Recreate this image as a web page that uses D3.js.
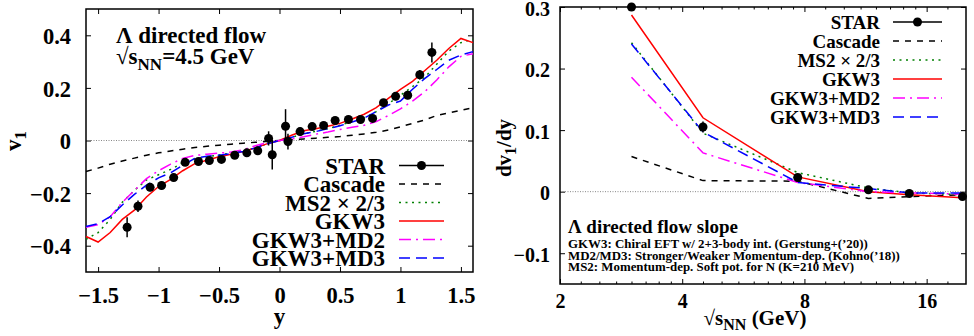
<!DOCTYPE html>
<html>
<head>
<meta charset="utf-8">
<script src="https://cdn.jsdelivr.net/npm/d3@7"></script>
<style>
  body { margin: 0; background: #fff; }
  svg text { font-family: "Liberation Serif", "Times New Roman", serif; font-weight: bold; fill: #000; }
</style>
</head>
<body>
<svg id="chart" width="974" height="336"></svg>
<script>
// ---- left panel: Lambda v1 vs rapidity at 4.5 GeV ----
const starY   = [-1.26, -1.17, -1.07, -0.975, -0.875, -0.78, -0.67, -0.58, -0.48, -0.37, -0.27, -0.18, -0.09, -0.06,
                 0.05, 0.07, 0.17, 0.27, 0.365, 0.46, 0.57, 0.67, 0.77, 0.86, 0.96, 1.06, 1.16, 1.26];
const starV1  = [-0.33, -0.25, -0.178, -0.171, -0.141, -0.083, -0.08, -0.076, -0.072, -0.056, -0.047, -0.039, 0.008, -0.054,
                 0.054, -0.004, 0.034, 0.053, 0.057, 0.076, 0.08, 0.08, 0.084, 0.144, 0.168, 0.172, 0.25, 0.335];
const starErr = [0.038, 0.022, 0.015, 0.015, 0.012, 0.01, 0.01, 0.01, 0.01, 0.01, 0.01, 0.01, 0.027, 0.056,
                 0.065, 0.03, 0.015, 0.012, 0.012, 0.01, 0.01, 0.01, 0.012, 0.012, 0.015, 0.015, 0.018, 0.038];

const modelY = [-1.6, -1.5, -1.4, -1.3, -1.2, -1.1, -1.0, -0.9, -0.8, -0.7, -0.6, -0.5, -0.4, -0.3, -0.2, -0.1, 0,
                0.1, 0.2, 0.3, 0.4, 0.5, 0.6, 0.7, 0.8, 0.9, 1.0, 1.1, 1.2, 1.3, 1.4, 1.5, 1.6];
const cascadeV1 = [-0.118, -0.105, -0.09, -0.078, -0.067, -0.056, -0.047, -0.04, -0.033, -0.027, -0.022, -0.018, -0.014, -0.01, -0.007, -0.003, 0,
                   0.003, 0.006, 0.009, 0.012, 0.015, 0.02, 0.025, 0.031, 0.04, 0.052, 0.065, 0.078, 0.095, 0.105, 0.115, 0.125];
const ms2V1  = [-0.376, -0.35, -0.30, -0.235, -0.19, -0.15, -0.13, -0.11, -0.085, -0.07, -0.062, -0.055, -0.048, -0.04, -0.028, -0.012, 0,
                0.012, 0.025, 0.035, 0.045, 0.058, 0.072, 0.085, 0.11, 0.14, 0.172, 0.205, 0.24, 0.29, 0.34, 0.372, 0.385];
const gkw3V1 = [-0.365, -0.386, -0.35, -0.30, -0.265, -0.215, -0.175, -0.148, -0.115, -0.088, -0.075, -0.062, -0.052, -0.042, -0.028, -0.012, 0,
                0.02, 0.037, 0.045, 0.054, 0.065, 0.082, 0.1, 0.125, 0.16, 0.194, 0.225, 0.265, 0.305, 0.35, 0.388, 0.372];
const md2V1  = [-0.33, -0.32, -0.29, -0.235, -0.19, -0.145, -0.115, -0.09, -0.068, -0.057, -0.052, -0.048, -0.044, -0.035, -0.02, -0.008, 0,
                0.006, 0.014, 0.024, 0.032, 0.042, 0.05, 0.058, 0.072, 0.095, 0.12, 0.15, 0.185, 0.23, 0.28, 0.32, 0.33];
const md3V1  = [-0.327, -0.316, -0.29, -0.245, -0.205, -0.17, -0.142, -0.123, -0.094, -0.068, -0.06, -0.056, -0.05, -0.042, -0.028, -0.012, 0,
                0.012, 0.026, 0.034, 0.045, 0.056, 0.07, 0.085, 0.11, 0.135, 0.15, 0.195, 0.235, 0.27, 0.305, 0.325, 0.338];

// ---- right panel: dv1/dy vs collision energy ----
const starSqrtS = [3.0, 4.5, 7.7, 11.5, 14.5, 19.6];
const starSlope = [0.3, 0.105, 0.023, 0.003, -0.003, -0.008];
const starSlopeErr = [0.005, 0.009, 0.004, 0.003, 0.003, 0.003];
const modelSqrtS = [3.0, 4.5, 7.7, 11.5, 14.5, 19.6];
const cascadeSlope = [0.057, 0.018, 0.017, -0.011, -0.008, -0.005];
const ms2Slope  = [0.242, 0.095, 0.031, 0.006, -0.002, -0.005];
const gkw3Slope = [0.287, 0.12, 0.024, 0.0, -0.005, -0.01];
const md2Slope  = [0.186, 0.063, 0.015, 0.0, -0.002, -0.004];
const md3Slope  = [0.24, 0.097, 0.015, 0.005, -0.002, -0.002];

const legendNames = ["STAR", "Cascade", "MS2 \u00d7 2/3", "GKW3", "GKW3+MD2", "GKW3+MD3"];

const styles = {
  Cascade:    {color: "#000000", dash: "6,6"},
  "MS2 \u00d7 2/3": {color: "#008000", dash: "2,4.5"},
  GKW3:       {color: "#ff0000", dash: null},
  "GKW3+MD2": {color: "#ff00ff", dash: "12,5,2,5"},
  "GKW3+MD3": {color: "#0000ff", dash: "11,6"}
};

const svg = d3.select("#chart");

function drawFrame(g, x, y, w, h, o) {
  // gnuplot-style box with inward ticks on all four sides
  g.append("g").attr("transform", `translate(0,${h})`)
    .call(d3.axisBottom(x).tickValues(o.xTicks).tickSize(-5).tickPadding(o.xPad).tickFormat(o.xFmt))
    .call(a => a.select(".domain").remove())
    .selectAll("text").style("font-size", o.font + "px");
  g.append("g")
    .call(d3.axisTop(x).tickValues(o.xTicks).tickSize(-5).tickFormat(""))
    .call(a => a.select(".domain").remove());
  g.append("g")
    .call(d3.axisLeft(y).tickValues(o.yTicks).tickSize(-5).tickPadding(o.yPad).tickFormat(d3.format("")))
    .call(a => a.select(".domain").remove())
    .selectAll("text").style("font-size", o.font + "px").attr("dy", o.yDy);
  g.append("g").attr("transform", `translate(${w},0)`)
    .call(d3.axisRight(y).tickValues(o.yTicks).tickSize(-5).tickFormat(""))
    .call(a => a.select(".domain").remove());
  if (o.xMinor) {
    g.append("g").attr("transform", `translate(0,${h})`)
      .call(d3.axisBottom(x).tickValues(o.xMinor).tickSize(-2.5).tickFormat(""))
      .call(a => a.select(".domain").remove());
    g.append("g")
      .call(d3.axisTop(x).tickValues(o.xMinor).tickSize(-2.5).tickFormat(""))
      .call(a => a.select(".domain").remove());
  }
  g.selectAll(".tick line").attr("stroke", "#000").attr("stroke-width", 1);
  // zero line
  g.append("line")
    .attr("x1", 0).attr("x2", w).attr("y1", y(0)).attr("y2", y(0))
    .attr("stroke", "#888").attr("stroke-width", 1).attr("stroke-dasharray", "1,1.5");
  g.append("rect").attr("width", w).attr("height", h)
    .attr("fill", "none").attr("stroke", "#000").attr("stroke-width", 1.5);
}

function drawLegend(g, xText, x0, x1, yTop, step, font) {
  legendNames.forEach((name, i) => {
    const cy = yTop + i * step;
    g.append("text").attr("x", xText).attr("y", cy + font * 0.35)
      .attr("text-anchor", "end").style("font-size", font + "px").text(name);
    const s = styles[name];
    g.append("line").attr("x1", x0).attr("x2", x1).attr("y1", cy).attr("y2", cy)
      .attr("stroke", s ? s.color : "#000").attr("stroke-width", 1.5)
      .attr("stroke-dasharray", s ? s.dash : null);
    if (!s) g.append("circle").attr("cx", (x0 + x1) / 2).attr("cy", cy).attr("r", 4.5).attr("fill", "#000");
  });
}

// ================= left panel =================
{
  const m = {left: 86, top: 9, w: 387, h: 263};
  const g = svg.append("g").attr("transform", `translate(${m.left},${m.top})`);
  const x = d3.scaleLinear().domain([-1.6, 1.6]).range([0, m.w]);
  const y = d3.scaleLinear().domain([-0.5, 0.5]).range([m.h, 0]);

  drawFrame(g, x, y, m.w, m.h, {
    xTicks: [-1.5, -1, -0.5, 0, 0.5, 1, 1.5], yTicks: [-0.4, -0.2, 0, 0.2, 0.4],
    xFmt: d3.format(""), xPad: 15, yPad: 15, yDy: "0.36em", font: 22.5
  });

  const models = [
    ["Cascade", cascadeV1], ["MS2 \u00d7 2/3", ms2V1], ["GKW3", gkw3V1], ["GKW3+MD2", md2V1], ["GKW3+MD3", md3V1]
  ];
  const line = d3.line().x(d => x(d[0])).y(d => y(d[1]));
  models.forEach(([name, vals]) => {
    g.append("path").datum(modelY.map((v, i) => [v, vals[i]]))
      .attr("d", line).attr("fill", "none")
      .attr("stroke", styles[name].color).attr("stroke-width", 1.5)
      .attr("stroke-dasharray", styles[name].dash);
  });

  const pts = starY.map((v, i) => ({x: v, y: starV1[i], e: starErr[i]}));
  g.selectAll(".err").data(pts).join("line")
    .attr("x1", d => x(d.x)).attr("x2", d => x(d.x))
    .attr("y1", d => y(d.y - d.e)).attr("y2", d => y(d.y + d.e))
    .attr("stroke", "#000").attr("stroke-width", 1.5);
  g.selectAll(".pt").data(pts).join("circle")
    .attr("cx", d => x(d.x)).attr("cy", d => y(d.y)).attr("r", 4.5).attr("fill", "#000");

  g.append("text").attr("x", 30).attr("y", 34).style("font-size", "23px").text("\u039b directed flow");
  const t2 = g.append("text").attr("x", 30).attr("y", 55).style("font-size", "23px");
  t2.append("tspan").text("\u221as");
  t2.append("tspan").attr("dy", 6).style("font-size", "17px").text("NN");
  t2.append("tspan").attr("dy", -6).text("=4.5 GeV");

  drawLegend(g, 299, 313, 358, 156.5, 18.5, 23);

  g.append("text").attr("x", x(0)).attr("y", 315).attr("text-anchor", "middle")
    .style("font-size", "23px").text("y");
}
// left y label
{
  const t = svg.append("text").attr("transform", "translate(21,141) rotate(-90)")
    .attr("text-anchor", "middle").style("font-size", "23px");
  t.append("tspan").text("v");
  t.append("tspan").attr("dy", 5).style("font-size", "17px").text("1");
}

// ================= right panel =================
{
  const m = {left: 560, top: 7, w: 406, h: 277};
  const g = svg.append("g").attr("transform", `translate(${m.left},${m.top})`);
  const x = d3.scaleLog().base(2).domain([2, 20]).range([0, m.w]);
  const y = d3.scaleLinear().domain([-0.15, 0.3]).range([m.h, 0]);

  const minor = [].concat(d3.range(2.25, 4, 0.25), d3.range(4.5, 8, 0.5), d3.range(9, 16, 1), [18]);
  drawFrame(g, x, y, m.w, m.h, {
    xTicks: [2, 4, 8, 16], yTicks: [-0.1, 0, 0.1, 0.2, 0.3], xMinor: minor,
    xFmt: d3.format("d"), xPad: 10, yPad: 10, yDy: "0.4em", font: 20
  });

  const models = [
    ["Cascade", cascadeSlope], ["MS2 \u00d7 2/3", ms2Slope], ["GKW3", gkw3Slope], ["GKW3+MD2", md2Slope], ["GKW3+MD3", md3Slope]
  ];
  const line = d3.line().x(d => x(d[0])).y(d => y(d[1]));
  models.forEach(([name, vals]) => {
    g.append("path").datum(modelSqrtS.map((v, i) => [v, vals[i]]))
      .attr("d", line).attr("fill", "none")
      .attr("stroke", styles[name].color).attr("stroke-width", 1.5)
      .attr("stroke-dasharray", styles[name].dash);
  });

  const pts = starSqrtS.map((v, i) => ({x: v, y: starSlope[i], e: starSlopeErr[i]}));
  g.selectAll(".err").data(pts).join("line")
    .attr("x1", d => x(d.x)).attr("x2", d => x(d.x))
    .attr("y1", d => y(d.y - d.e)).attr("y2", d => y(d.y + d.e))
    .attr("stroke", "#000").attr("stroke-width", 1.5);
  g.selectAll(".pt").data(pts).join("circle")
    .attr("cx", d => x(d.x)).attr("cy", d => y(d.y)).attr("r", 4.5).attr("fill", "#000");

  drawLegend(g, 320, 333, 382, 15, 19, 19);

  g.append("text").attr("x", 8).attr("y", 226).style("font-size", "19px").text("\u039b directed flow slope");
  const notes = [
    "GKW3: Chiral EFT w/ 2+3-body int. (Gerstung+(\u201920))",
    "MD2/MD3: Stronger/Weaker Momentum-dep. (Kohno(\u201918))",
    "MS2: Momentum-dep. Soft pot. for N (K=210 MeV)"
  ];
  notes.forEach((n, i) => {
    g.append("text").attr("x", 8).attr("y", 241 + i * 11.7).style("font-size", "12.9px").text(n);
  });

  const xl = g.append("text").attr("x", 195).attr("y", 318).attr("text-anchor", "middle").style("font-size", "21px");
  xl.append("tspan").text("\u221as");
  xl.append("tspan").attr("dy", 5).style("font-size", "16px").text("NN");
  xl.append("tspan").attr("dy", -5).text(" (GeV)");
}
{
  const t = svg.append("text").attr("transform", "translate(511,148) rotate(-90)")
    .attr("text-anchor", "middle").style("font-size", "21px");
  t.append("tspan").text("dv");
  t.append("tspan").attr("dy", 5).style("font-size", "16px").text("1");
  t.append("tspan").attr("dy", -5).text("/dy");
}
</script>
</body>
</html>
